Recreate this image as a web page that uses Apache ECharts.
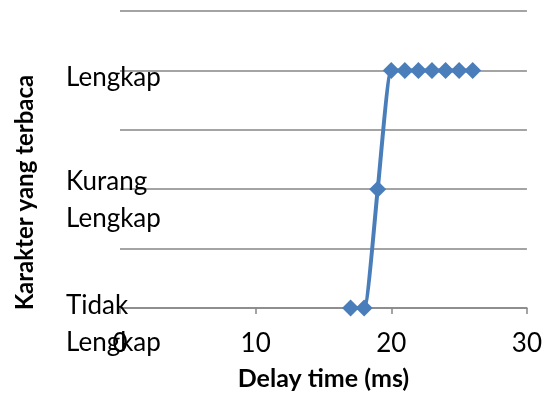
<!DOCTYPE html>
<html>
<head>
<meta charset="utf-8">
<script src="https://cdn.jsdelivr.net/npm/echarts@6/dist/echarts.min.js"></script>
<style>
  html, body { margin: 0; padding: 0; background: #fff; }
  #chart { width: 545px; height: 396px; }
</style>
</head>
<body>
<div id="chart"></div>
<script>
// Delay time (ms) against readability level of received characters
const delayTimes = [17, 18, 19, 20, 21, 22, 23, 24, 25, 26];
const readLevels = [0, 0, 1, 2, 2, 2, 2, 2, 2, 2];
const levelNames = { 0: ['Tidak', 'Lengkap'], 1: ['Kurang', 'Lengkap'], 2: ['Lengkap'] };
const xTicks = [0, 10, 20, 30];

const FONT = 'Lato, "Open Sans", sans-serif';
const chart = echarts.init(document.getElementById('chart'));

// a blank leading line pushes each category label a little below its gridline
const leadSpace = { 0: 'g0', 1: 'g1', 2: 'g2' };

chart.setOption({
  animation: false,
  grid: { left: 120, right: 18, top: 11, bottom: 85 },
  xAxis: {
    type: 'value',
    min: xTicks[0],
    max: xTicks[xTicks.length - 1],
    interval: 10,
    name: 'Delay time (ms)',
    nameLocation: 'middle',
    nameGap: 58,
    nameTextStyle: { fontFamily: FONT, fontSize: 25, fontWeight: 'bold', color: '#000' },
    axisLine: { lineStyle: { color: '#868686', width: 1.5 } },
    axisTick: { show: true, length: 6, lineStyle: { color: '#868686', width: 1.5 } },
    axisLabel: { fontFamily: FONT, fontSize: 26, color: '#000', margin: 23 },
    splitLine: { show: false }
  },
  yAxis: {
    type: 'value',
    min: 0,
    max: 2.5,
    interval: 0.5,
    name: 'Karakter yang terbaca',
    nameLocation: 'middle',
    nameGap: 83,
    nameRotate: 90,
    nameTextStyle: {
      fontFamily: FONT, fontSize: 24, fontWeight: 'bold', color: '#000',
      padding: [0, 66, 0, 0]
    },
    axisLine: { show: false },
    axisTick: { show: false },
    axisLabel: {
      fontFamily: FONT, fontSize: 26, color: '#000',
      align: 'left', margin: 54,
      formatter: v => {
        if (!Number.isInteger(v) || !levelNames[v]) return '';
        const lines = levelNames[v].map(s => '{t|' + s + '}');
        return ['{' + leadSpace[v] + '| }'].concat(lines).join('\n');
      },
      rich: {
        t: { fontFamily: FONT, fontSize: 26, color: '#000', lineHeight: 37 },
        g0: { fontSize: 4, lineHeight: 33 },
        g1: { fontSize: 4, lineHeight: 22 },
        g2: { fontSize: 4, lineHeight: 14 }
      }
    },
    splitLine: { show: true, lineStyle: { color: '#868686', width: 1.5 } }
  },
  series: [{
    type: 'line',
    data: delayTimes.map((d, i) => [d, readLevels[i]]),
    smooth: 0.15,
    symbol: 'diamond',
    symbolSize: 17,
    lineStyle: { color: '#4a7ebb', width: 4 },
    itemStyle: { color: '#4a7ebb' }
  }]
});
</script>
</body>
</html>
